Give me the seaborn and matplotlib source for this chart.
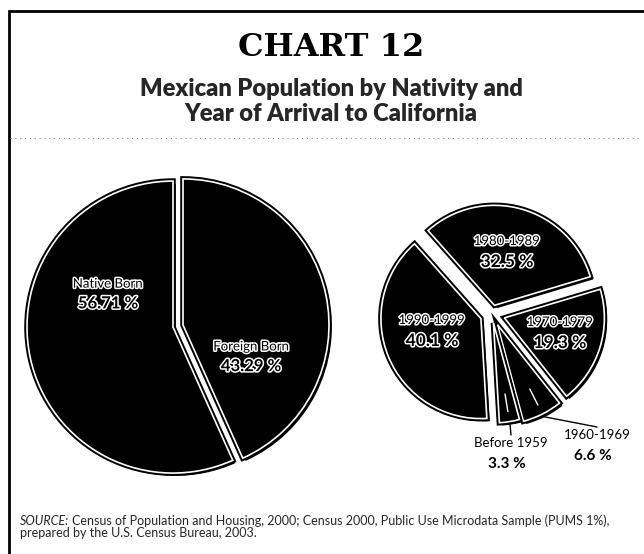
import matplotlib
matplotlib.use("Agg")
import numpy as np
import matplotlib.pyplot as plt
import matplotlib.patheffects as pe
import seaborn as sns

sns.set_theme(style="white")
plt.rcParams["font.family"] = ["Lato", "DejaVu Sans"]

# data
nativity = ["Native Born", "Foreign Born"]
nativity_pct = [56.71, 43.29]

arrival = ["1980-1989", "1970-1979", "1960-1969", "Before 1959", "1990-1999"]
arrival_pct = [32.5, 19.3, 6.6, 3.3, 40.1]

W, H = 644, 554
fig = plt.figure(figsize=(W / 100, H / 100), dpi=100)
fig.patch.set_facecolor("white")

# background axes in pixel coords for frame and text
bg = fig.add_axes([0, 0, 1, 1])
bg.set_xlim(0, W)
bg.set_ylim(H, 0)
bg.axis("off")

bg.plot([9, 9, W], [H, 11, 11], color="black", lw=2, solid_joinstyle="miter")
bg.plot([10, 640], [138, 138], color="0.45", lw=0.7, ls=(0, (1, 4)))

bg.text(331, 48, "CHART 12", ha="center", va="center", fontsize=23,
        fontweight="bold", family="DejaVu Serif", color="black")
bg.text(331, 89, "Mexican Population by Nativity and", ha="center", va="center",
        fontsize=17, fontweight="heavy")
bg.text(331, 114, "Year of Arrival to California", ha="center", va="center",
        fontsize=17, fontweight="heavy")

src = bg.text(20, 525, "SOURCE:", style="italic", fontsize=9, va="baseline")
bg.annotate("Census of Population and Housing, 2000; Census 2000, Public Use Microdata Sample (PUMS 1%),",
            xy=(1, 0), xycoords=src, xytext=(2, 0), textcoords="offset points",
            va="bottom", ha="left", fontsize=9)
bg.text(20, 537, "prepared by the U.S. Census Bureau, 2003.", fontsize=9, va="baseline")


def pie_axes(cx, cy, r, lim):
    size = 2 * lim * r
    ax = fig.add_axes([(cx - size / 2) / W, (H - cy - size / 2) / H, size / W, size / H])
    return ax


def style_wedges(wedges):
    for w in wedges:
        w.set_path_effects([
            pe.SimplePatchShadow(offset=(2, -2), shadow_rgbFace="black", alpha=1),
            pe.Stroke(linewidth=4, foreground="black"),
            pe.Normal(),
        ])


outline = [pe.withStroke(linewidth=2.2, foreground="white")]

# left pie: nativity
ax1 = pie_axes(178, 326, 146, 1.25)
w1, _ = ax1.pie(nativity_pct, explode=[0.035, 0.035], startangle=90, counterclock=True,
                colors=["black"] * 2, wedgeprops=dict(edgecolor="white", linewidth=1.2))
style_wedges(w1)
ax1.set_xlim(-1.25, 1.25)
ax1.set_ylim(-1.25, 1.25)
ax1.axis("off")

left_pos = [(-0.48, 0.29), (0.50, -0.14)]
for (x, y), name, v in zip(left_pos, nativity, nativity_pct):
    ax1.text(x, y, name, ha="center", va="center", fontsize=9.5, color="black",
             path_effects=outline)
    ax1.text(x, y - 0.135, f"{v:.2f} %", ha="center", va="center", fontsize=12,
             fontweight="bold", color="black", path_effects=outline)

# right pie: year of arrival
ax2 = pie_axes(492, 314, 100, 1.3)
w2, _ = ax2.pie(arrival_pct, explode=[0.09, 0.13, 0.12, 0.09, 0.12], startangle=131.6,
                counterclock=False, colors=["black"] * 5,
                wedgeprops=dict(edgecolor="white", linewidth=1.2))
style_wedges(w2)
ax2.set_xlim(-1.3, 1.3)
ax2.set_ylim(-1.3, 1.3)
ax2.axis("off")

inside_pos = {"1980-1989": (0.15, 0.73), "1970-1979": (0.68, -0.08), "1990-1999": (-0.60, -0.06)}
outside_pos = {"1960-1969": (1.05, -1.21), "Before 1959": (0.19, -1.29)}

for w, name, v in zip(w2, arrival, arrival_pct):
    if name in inside_pos:
        x, y = inside_pos[name]
        ax2.text(x, y, name, ha="center", va="center", fontsize=9.5, color="black",
                 path_effects=outline)
        ax2.text(x, y - 0.21, f"{v:.1f} %", ha="center", va="center", fontsize=12.5,
                 fontweight="bold", color="black", path_effects=outline)
    else:
        x, y = outside_pos[name]
        ax2.text(x, y, name, ha="center", va="center", fontsize=9.5, color="black")
        ax2.text(x - 0.04, y - 0.21, f"{v:.1f} %", ha="center", va="center",
                 fontsize=11, fontweight="bold", color="black")
        # leader: white tick inside wedge, black line outside
        mid = np.deg2rad((w.theta1 + w.theta2) / 2)
        cx, cy = w.center
        d = np.array([np.cos(mid), np.sin(mid)])
        p0 = np.array([cx, cy]) + 0.72 * d
        p1 = np.array([cx, cy]) + 0.9 * d
        p2 = np.array([cx, cy]) + 1.03 * d
        ax2.plot([p0[0], p1[0]], [p0[1], p1[1]], color="white", lw=1)
        ax2.plot([p2[0], x], [p2[1], y + 0.08], color="black", lw=1)

fig.savefig("out.png", dpi=100, facecolor="white")
